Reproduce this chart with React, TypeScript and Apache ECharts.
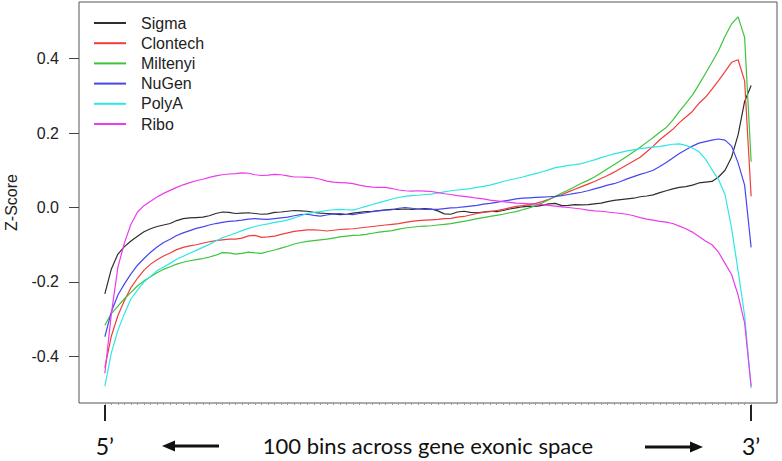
import React, { useEffect, useRef } from "react";
import * as echarts from "echarts";

// 100 bins along the gene body (5' -> 3')
const bins: number[] = Array.from({ length: 100 }, (_, i) => i + 1);

const sigma: number[] = [
  -0.232, -0.165, -0.125, -0.105, -0.09, -0.077, -0.065, -0.057, -0.051, -0.047,
  -0.043, -0.035, -0.03, -0.028, -0.027, -0.026, -0.022, -0.016, -0.012, -0.013,
  -0.016, -0.015, -0.014, -0.016, -0.018, -0.017, -0.013, -0.012, -0.01, -0.008,
  -0.009, -0.01, -0.013, -0.015, -0.016, -0.017, -0.019, -0.018, -0.015, -0.013,
  -0.011, -0.01, -0.008, -0.006, -0.005, -0.005, -0.004, -0.005, -0.004, -0.003,
  -0.004, -0.009, -0.017, -0.018, -0.012, -0.01, -0.013, -0.014, -0.012, -0.01,
  -0.011, -0.008, -0.004, -0.001, 0.002, 0.004, 0.003, 0.006, 0.01, 0.011,
  0.005, 0.006, 0.008, 0.007, 0.008, 0.01, 0.012, 0.016, 0.019, 0.021,
  0.023, 0.025, 0.029, 0.031, 0.034, 0.04, 0.045, 0.05, 0.054, 0.056,
  0.06, 0.066, 0.068, 0.07, 0.082, 0.1, 0.135, 0.195, 0.285, 0.328,
];

const clontech: number[] = [
  -0.43, -0.345, -0.29, -0.25, -0.215, -0.19, -0.168, -0.152, -0.14, -0.13,
  -0.122, -0.113, -0.107, -0.103, -0.1, -0.096, -0.092, -0.089, -0.087, -0.085,
  -0.085, -0.082, -0.076, -0.075, -0.08, -0.079, -0.077, -0.072, -0.068, -0.064,
  -0.062, -0.06, -0.06, -0.061, -0.063, -0.061, -0.059, -0.058, -0.057, -0.055,
  -0.053, -0.051, -0.049, -0.047, -0.045, -0.043, -0.04, -0.037, -0.035, -0.034,
  -0.033, -0.032, -0.03, -0.029, -0.026, -0.024, -0.02, -0.016, -0.013, -0.011,
  -0.008, -0.005, -0.001, 0.003, 0.005, 0.008, 0.011, 0.016, 0.022, 0.029,
  0.035, 0.042, 0.049, 0.056, 0.063, 0.07, 0.078, 0.086, 0.095, 0.105,
  0.115, 0.125, 0.135, 0.15, 0.165, 0.182, 0.196, 0.21, 0.228, 0.243,
  0.258, 0.28, 0.296, 0.318, 0.341, 0.365, 0.39, 0.397, 0.34, 0.03,
];

const miltenyi: number[] = [
  -0.316, -0.285, -0.265, -0.245, -0.228, -0.21, -0.197, -0.186, -0.175, -0.166,
  -0.159, -0.152, -0.147, -0.143, -0.14, -0.137, -0.133, -0.128, -0.121, -0.122,
  -0.125, -0.123, -0.12, -0.122, -0.123, -0.118, -0.114, -0.109, -0.104, -0.098,
  -0.094, -0.091, -0.089, -0.087, -0.085, -0.082, -0.079, -0.077, -0.075, -0.074,
  -0.072, -0.069, -0.066, -0.064, -0.062, -0.058, -0.055, -0.053, -0.051, -0.05,
  -0.049, -0.047, -0.045, -0.043, -0.04, -0.037, -0.034, -0.03, -0.027, -0.024,
  -0.021, -0.018, -0.014, -0.011, -0.006, -0.001, 0.005, 0.012, 0.021, 0.03,
  0.039, 0.047, 0.056, 0.065, 0.073, 0.082, 0.093, 0.104, 0.115, 0.126,
  0.138, 0.15, 0.162, 0.175, 0.188, 0.202, 0.215, 0.235, 0.258, 0.28,
  0.302, 0.33, 0.36, 0.39, 0.421, 0.46, 0.493, 0.512, 0.457, 0.123,
];

const nugen: number[] = [
  -0.347, -0.28, -0.235, -0.205, -0.178, -0.155, -0.137, -0.12, -0.106, -0.094,
  -0.085, -0.075, -0.068, -0.062, -0.056, -0.052, -0.047, -0.043, -0.04, -0.037,
  -0.036, -0.034, -0.031, -0.03, -0.031, -0.032, -0.03, -0.028, -0.026, -0.022,
  -0.019, -0.018, -0.021, -0.023, -0.02, -0.017, -0.016, -0.018, -0.019, -0.016,
  -0.014, -0.011, -0.009, -0.007, -0.006, -0.002, 0.0, -0.002, -0.004, -0.005,
  -0.005, -0.005, -0.003, -0.001, 0.0, 0.002, 0.004, 0.006, 0.009, 0.011,
  0.014, 0.017, 0.02, 0.023, 0.025, 0.026, 0.027, 0.028, 0.029, 0.03,
  0.032, 0.035, 0.038, 0.041, 0.045, 0.05, 0.055, 0.06, 0.064, 0.07,
  0.077, 0.083, 0.089, 0.094, 0.1, 0.11, 0.121, 0.133, 0.145, 0.155,
  0.165, 0.173, 0.177, 0.181, 0.184, 0.181, 0.165, 0.12, 0.06, -0.107,
];

const polyA: number[] = [
  -0.48, -0.39, -0.33, -0.285, -0.245, -0.222, -0.2, -0.185, -0.17, -0.16,
  -0.15, -0.139, -0.131, -0.123, -0.115, -0.107, -0.099, -0.09, -0.081, -0.075,
  -0.069, -0.062, -0.056, -0.051, -0.047, -0.044, -0.04, -0.037, -0.033, -0.028,
  -0.022, -0.016, -0.013, -0.011, -0.008, -0.006, -0.005, -0.006, -0.007, -0.002,
  0.003, 0.008, 0.013, 0.018, 0.023, 0.027, 0.03, 0.032, 0.033, 0.035,
  0.036, 0.039, 0.042, 0.045, 0.047, 0.049, 0.051, 0.054, 0.057, 0.06,
  0.065, 0.07, 0.074, 0.078, 0.082, 0.087, 0.091, 0.096, 0.101, 0.107,
  0.11, 0.113, 0.115, 0.118, 0.123, 0.128, 0.134, 0.139, 0.144, 0.148,
  0.152, 0.155, 0.158, 0.16, 0.162, 0.164, 0.167, 0.17, 0.171, 0.167,
  0.16, 0.15, 0.13, 0.102, 0.075, 0.035, -0.055, -0.17, -0.29, -0.485,
];

const ribo: number[] = [
  -0.445, -0.285, -0.16, -0.095, -0.045, -0.012, 0.005, 0.017, 0.028, 0.038,
  0.046, 0.054, 0.061, 0.067, 0.072, 0.076, 0.081, 0.085, 0.088, 0.09,
  0.091, 0.093, 0.092, 0.088, 0.086, 0.087, 0.089, 0.088, 0.085, 0.082,
  0.082, 0.081, 0.08, 0.076, 0.071, 0.068, 0.067, 0.066, 0.064, 0.06,
  0.057, 0.055, 0.054, 0.054, 0.051, 0.047, 0.045, 0.044, 0.045, 0.044,
  0.043, 0.04, 0.037, 0.035, 0.032, 0.03, 0.028, 0.025, 0.023, 0.02,
  0.018, 0.016, 0.014, 0.012, 0.011, 0.01, 0.009, 0.008, 0.006, 0.004,
  0.002, 0.0, -0.002, -0.004, -0.007, -0.009, -0.01, -0.012, -0.014, -0.016,
  -0.018, -0.022, -0.027, -0.031, -0.034, -0.037, -0.039, -0.043, -0.05, -0.057,
  -0.066, -0.078, -0.09, -0.1, -0.12, -0.15, -0.18, -0.235, -0.31, -0.48,
];

const seriesNames: string[] = ["Sigma", "Clontech", "Miltenyi", "NuGen", "PolyA", "Ribo"];
const seriesValues: number[][] = [sigma, clontech, miltenyi, nugen, polyA, ribo];
const seriesColors: string[] = ["#2e2e2e", "#f23c3c", "#3cc43c", "#4646f0", "#2ee6e6", "#ea3cea"];

const yTicks: number[] = [-0.4, -0.2, 0.0, 0.2, 0.4];
const endTicks: number[] = [1, 100];
const endLabels: string[] = ["5\u2019", "3\u2019"];
const xCaption = "100 bins across gene exonic space";
const yTitle = "Z-Score";

const X_MIN = -2.96;
const X_MAX = 103.96;
const Y_MIN = -0.525;
const Y_MAX = 0.552;

export default function App() {
  const ref = useRef<HTMLDivElement>(null);

  useEffect(() => {
    document.body.style.margin = "0";
    if (!ref.current) return;
    const chart = echarts.init(ref.current, undefined, { renderer: "svg" });

    const axisFont = "'Liberation Sans', Arial, Helvetica, sans-serif";
    const annoFont = "Lato, 'Open Sans', sans-serif";

    chart.setOption({
      animation: false,
      backgroundColor: "#ffffff",
      grid: {
        left: 79,
        right: 5,
        top: 2,
        bottom: 58,
        show: true,
        containLabel: false,
        outerBoundsMode: "none",
        borderColor: "#555555",
        borderWidth: 1,
        backgroundColor: "transparent",
      },
      legend: {
        orient: "vertical",
        left: 93,
        top: 15,
        padding: 0,
        itemWidth: 32,
        itemHeight: 12,
        itemGap: 4.2,
        data: seriesNames,
        selectedMode: false,
        itemStyle: { opacity: 0 },
        textStyle: {
          fontFamily: axisFont,
          fontSize: 16,
          lineHeight: 16,
          color: "#222222",
          padding: [0, 0, 0, 10],
        },
      },
      xAxis: [
        {
          type: "value",
          min: X_MIN,
          max: X_MAX,
          position: "bottom",
          axisLine: { show: false, onZero: false },
          splitLine: { show: false },
          axisLabel: { show: false },
          axisTick: {
            show: true,
            customValues: bins,
            length: 2,
            lineStyle: { color: "#999999", width: 1 },
          },
        },
        {
          type: "value",
          min: X_MIN,
          max: X_MAX,
          position: "bottom",
          offset: 2,
          axisLine: { show: false, onZero: false },
          splitLine: { show: false },
          axisTick: {
            show: true,
            customValues: endTicks,
            length: 16,
            lineStyle: { color: "#222222", width: 2 },
          },
          axisLabel: {
            show: true,
            customValues: endTicks,
            formatter: (v: number) => endLabels[endTicks.indexOf(v)] ?? "",
            margin: 29,
            fontSize: 23,
            fontFamily: annoFont,
            color: "#111111",
          },
          name: xCaption,
          nameLocation: "middle",
          nameGap: 29,
          nameMoveOverlap: false,
          nameTextStyle: {
            fontSize: 22,
            fontFamily: annoFont,
            color: "#111111",
          },
        },
      ],
      yAxis: {
        type: "value",
        min: Y_MIN,
        max: Y_MAX,
        position: "left",
        axisLine: { show: false, onZero: false },
        splitLine: { show: false },
        axisTick: {
          show: true,
          customValues: yTicks,
          length: 10,
          lineStyle: { color: "#444444", width: 1 },
        },
        axisLabel: {
          customValues: yTicks,
          margin: 20,
          fontSize: 16,
          fontFamily: axisFont,
          color: "#222222",
          formatter: (v: number) => v.toFixed(1),
        },
        name: yTitle,
        nameLocation: "middle",
        nameGap: 60,
        nameMoveOverlap: false,
        nameTextStyle: {
          fontSize: 16,
          fontFamily: axisFont,
          color: "#222222",
        },
      },
      graphic: [
        {
          type: "group",
          silent: true,
          children: [
            { type: "line", shape: { x1: 172, y1: 446, x2: 219, y2: 446 }, style: { stroke: "#111111", lineWidth: 3 } },
            { type: "polygon", shape: { points: [[162, 446], [175, 440.5], [175, 451.5]] }, style: { fill: "#111111" } },
            { type: "line", shape: { x1: 645, y1: 447, x2: 692, y2: 447 }, style: { stroke: "#111111", lineWidth: 3 } },
            { type: "polygon", shape: { points: [[703, 447], [690, 441.5], [690, 452.5]] }, style: { fill: "#111111" } },
          ],
        },
      ],
      series: seriesNames.map((name, k) => ({
        name,
        type: "line",
        xAxisIndex: 0,
        yAxisIndex: 0,
        symbol: "none",
        silent: true,
        color: seriesColors[k],
        lineStyle: { color: seriesColors[k], width: 1.2 },
        data: bins.map((b, i) => [b, seriesValues[k][i]]),
      })),
    });

    return () => chart.dispose();
  }, []);

  return (
    <div
      ref={ref}
      style={{ position: "fixed", left: 0, top: 0, width: 782, height: 461, background: "#fff" }}
    />
  );
}
